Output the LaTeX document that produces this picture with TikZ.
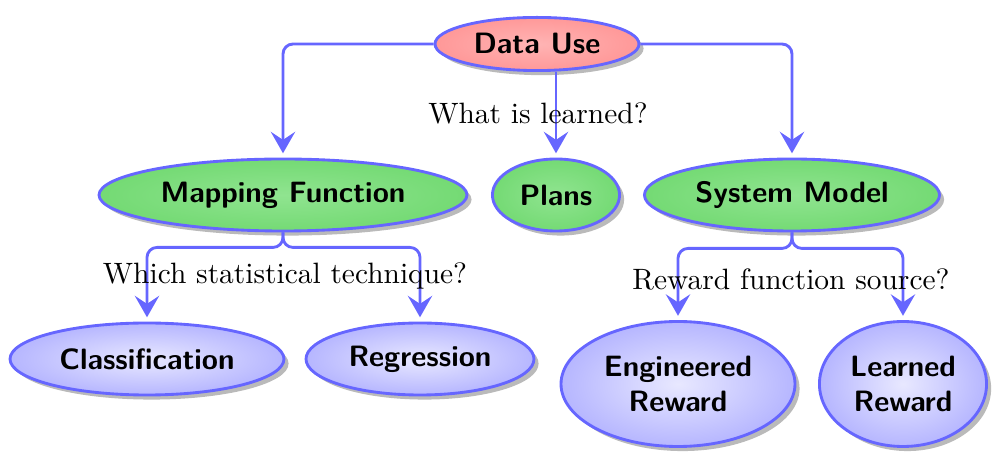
\documentclass[tikz,border=0pt]{standalone}
\usetikzlibrary{shapes.geometric,shadows,arrows.meta}
\definecolor{edgeblue}{HTML}{6666FF}
\definecolor{redin}{HTML}{FFB4B4}
\definecolor{redout}{HTML}{FF9898}
\definecolor{greenin}{HTML}{90E490}
\definecolor{greenout}{HTML}{74DA74}
\definecolor{bluein}{HTML}{E8E8FF}
\definecolor{blueout}{HTML}{B6B6FF}
\tikzset{
  ell/.style={ellipse, draw=edgeblue, line width=1pt, inner sep=0pt,
    font=\fontsize{10.3}{12.4}\selectfont\sffamily\bfseries, align=center,
    drop shadow={shadow xshift=1.6pt, shadow yshift=-1.6pt, fill=black!30, opacity=0.9}},
  rednode/.style={ell, inner color=redin, outer color=redout},
  greennode/.style={ell, inner color=greenin, outer color=greenout},
  bluenode/.style={ell, inner color=bluein, outer color=blueout},
  conn/.style={draw=edgeblue, line width=1pt, rounded corners=3.5pt,
    -{Stealth[length=7.5pt,width=8.5pt,inset=2.8pt]}, shorten >=1.5pt},
  lbl/.style={inner sep=0pt, font=\fontsize{10.3}{12.4}\selectfont}
}
\begin{document}
\begin{tikzpicture}[x=0.35pt,y=-0.35pt]
\useasboundingbox (0,0) rectangle (993,452);
\node[rednode, minimum width=71.4pt, minimum height=18.6pt] (du) at (537,44) {Data Use};
\node[greennode, minimum width=128.8pt, minimum height=25.2pt] (mf) at (283,195) {Mapping Function};
\node[greennode, minimum width=44.5pt, minimum height=25.2pt] (pl) at (556,195) {Plans};
\node[greennode, minimum width=103.3pt, minimum height=25.2pt] (sm) at (792,195) {System Model};
\node[bluenode, minimum width=95.9pt, minimum height=25.2pt] (cl) at (147,359) {Classification};
\node[bluenode, minimum width=79.8pt, minimum height=25.2pt] (rg) at (420,359) {Regression};
\node[bluenode, minimum width=81.9pt, minimum height=43.75pt] (er) at (678,384) {Engineered\\Reward};
\node[bluenode, minimum width=58.5pt, minimum height=43.75pt] (lr) at (903,384) {Learned\\Reward};

\draw[conn] (du.west) -| (mf.north);
\draw[conn] (du.east) -| (sm.north);
\draw[conn] (du.south -| pl.north) -- (pl.north);
\draw[conn] (mf.south) -- ++(0,15) -| (cl.north);
\draw[conn] (mf.south) -- ++(0,15) -| (rg.north);
\draw[conn] (sm.south) -- ++(0,16) -| (er.north);
\draw[conn] (sm.south) -- ++(0,16) -| (lr.north);

\node[lbl] (q1) at (538,113) {What is learned?};
\node[lbl] (q2) at (285,276) {Which statistical technique?};
\node[lbl] (q3) at (791,279) {Reward function source?};
\end{tikzpicture}
\end{document}
